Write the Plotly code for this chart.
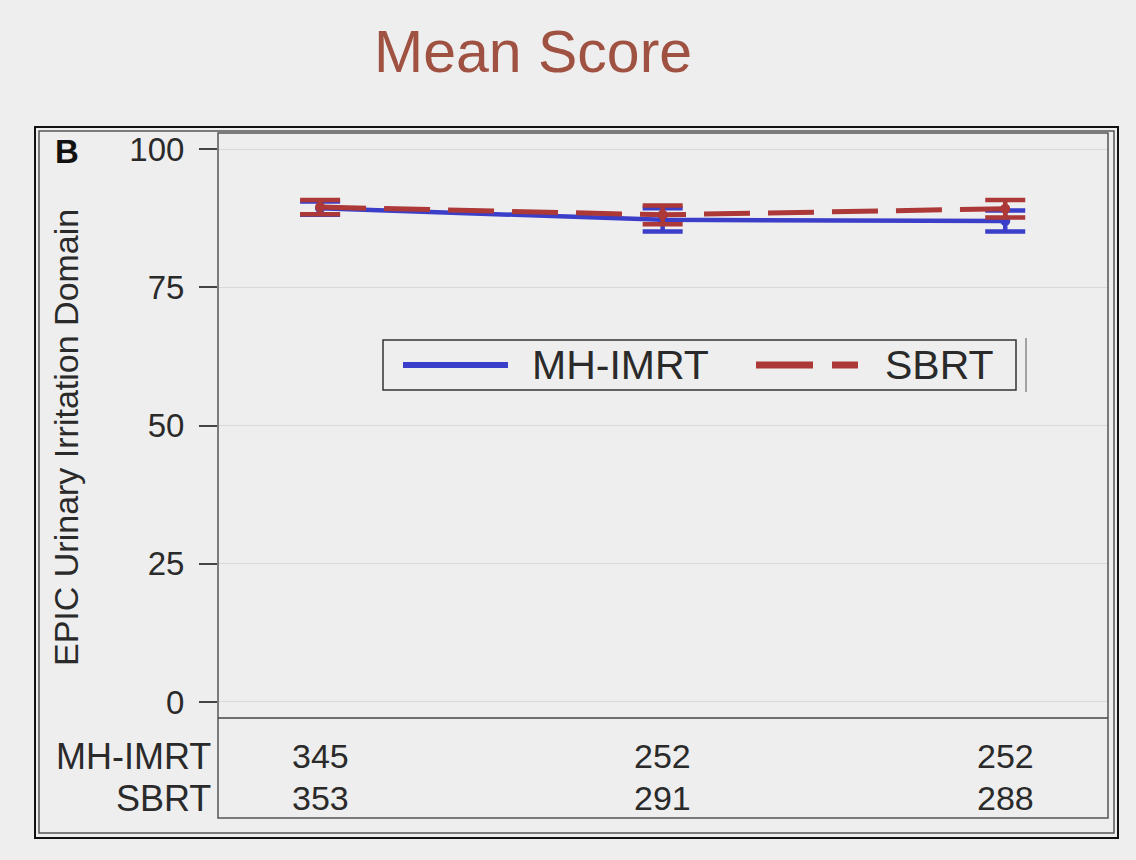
import plotly.graph_objects as go

# ---- data ----
timepoints = [1, 2, 3]
mh_imrt_mean = [89.3, 87.2, 87.0]
mh_imrt_err = [1.2, 2.1, 1.9]
sbrt_mean = [89.5, 88.1, 89.2]
sbrt_err = [1.3, 1.7, 1.6]
mh_imrt_n = [345, 252, 252]
sbrt_n = [353, 291, 288]
y_ticks = [0, 25, 50, 75, 100]
series_names = ["MH-IMRT", "SBRT"]

W, H = 1136, 860
PL, PR, PT, PB = 218, 1108, 133, 718  # plot area in pixels

def px(x):
    return (x - PL) / (PR - PL)

def py(y):
    return (PB - y) / (PB - PT)

BLUE = "rgb(58,62,200)"
RED = "rgb(172,56,56)"
BG = "#eeeeee"
TXT = "#2a2a2a"
FONT = "Liberation Sans, Arial, sans-serif"

fig = go.Figure()
fig.add_trace(go.Scatter(
    x=timepoints, y=mh_imrt_mean, mode="lines+markers", name=series_names[0],
    line=dict(color=BLUE, width=4.5), marker=dict(color=BLUE, size=10),
    error_y=dict(type="data", array=mh_imrt_err, color=BLUE, thickness=4.5, width=20),
))
fig.add_trace(go.Scatter(
    x=timepoints, y=sbrt_mean, mode="lines+markers", name=series_names[1],
    line=dict(color=RED, width=5, dash="46px,18px"), marker=dict(color=RED, size=10),
    error_y=dict(type="data", array=sbrt_err, color=RED, thickness=4.5, width=20),
))

shapes = []
# outer double frame
shapes.append(dict(type="rect", xref="paper", yref="paper", x0=px(35), x1=px(1118), y0=py(838), y1=py(127),
                   line=dict(color="#111111", width=2)))
shapes.append(dict(type="rect", xref="paper", yref="paper", x0=px(39), x1=px(1114), y0=py(833), y1=py(131),
                   line=dict(color="#555555", width=1.5)))
# plot box including table
shapes.append(dict(type="rect", xref="paper", yref="paper", x0=px(PL), x1=px(PR), y0=py(818), y1=py(PT),
                   line=dict(color="#555555", width=1.5)))
shapes.append(dict(type="line", xref="paper", yref="paper", x0=px(PL), x1=px(PR), y0=py(718), y1=py(718),
                   line=dict(color="#444444", width=1.5)))
# legend box
shapes.append(dict(type="rect", xref="paper", yref="paper", x0=px(383), x1=px(1016), y0=py(390), y1=py(340),
                   line=dict(color="#333333", width=1.5), fillcolor=BG))
shapes.append(dict(type="line", xref="paper", yref="paper", x0=px(1026), x1=px(1026), y0=py(392), y1=py(338),
                   line=dict(color="#888888", width=1.5)))
shapes.append(dict(type="line", xref="paper", yref="paper", x0=px(403), x1=px(508), y0=py(365), y1=py(365),
                   line=dict(color=BLUE, width=6)))
shapes.append(dict(type="line", xref="paper", yref="paper", x0=px(756), x1=px(858), y0=py(365), y1=py(365),
                   line=dict(color=RED, width=7, dash="57px,19px")))

ann = []
ann.append(dict(text="Mean Score", xref="paper", yref="paper", x=px(533), y=py(52), showarrow=False,
                font=dict(size=59, color="rgb(160,82,66)", family=FONT), xanchor="center", yanchor="middle"))
ann.append(dict(text="<b>B</b>", xref="paper", yref="paper", x=px(53), y=py(151), showarrow=False,
                font=dict(size=33, color="#111111", family=FONT), xanchor="left", yanchor="middle"))
ann.append(dict(text="EPIC Urinary Irritation Domain", xref="paper", yref="paper", x=px(66), y=py(438),
                showarrow=False, textangle=-90, font=dict(size=34, color=TXT, family=FONT),
                xanchor="center", yanchor="middle"))
ann.append(dict(text=series_names[0], xref="paper", yref="paper", x=px(530), y=py(365), showarrow=False,
                font=dict(size=41, color=TXT, family=FONT), xanchor="left", yanchor="middle"))
ann.append(dict(text=series_names[1], xref="paper", yref="paper", x=px(883), y=py(365), showarrow=False,
                font=dict(size=41, color=TXT, family=FONT), xanchor="left", yanchor="middle"))
# at-risk table
for name, counts, yy in [(series_names[0], mh_imrt_n, 756), (series_names[1], sbrt_n, 798)]:
    ann.append(dict(text=name, xref="paper", yref="paper", x=px(213), y=py(yy), showarrow=False,
                    font=dict(size=36, color=TXT, family=FONT), xanchor="right", yanchor="middle"))
    for t, c in zip(timepoints, counts):
        ann.append(dict(text=str(c), xref="x", yref="paper", x=t, y=py(yy), showarrow=False,
                        font=dict(size=34, color=TXT, family=FONT), xanchor="center", yanchor="middle"))

fig.update_layout(
    width=W, height=H,
    margin=dict(l=PL, r=W - PR, t=PT, b=H - PB, pad=0),
    paper_bgcolor=BG, plot_bgcolor=BG,
    showlegend=False,
    shapes=shapes, annotations=ann,
    xaxis=dict(range=[0.702, 3.30], showgrid=False, zeroline=False, showticklabels=False,
               ticks="", showline=False, fixedrange=True),
    yaxis=dict(range=[-2.9, 102.9], tickvals=y_ticks, ticktext=[str(v) for v in y_ticks],
               showgrid=True, gridcolor="#d9d9d9", gridwidth=1, zeroline=False,
               ticks="outside", ticklen=18, tickwidth=1.5, tickcolor="#444444",
               ticklabelstandoff=8,
               tickfont=dict(size=33, color=TXT, family=FONT), showline=False),
)

fig.write_html("out.html")
